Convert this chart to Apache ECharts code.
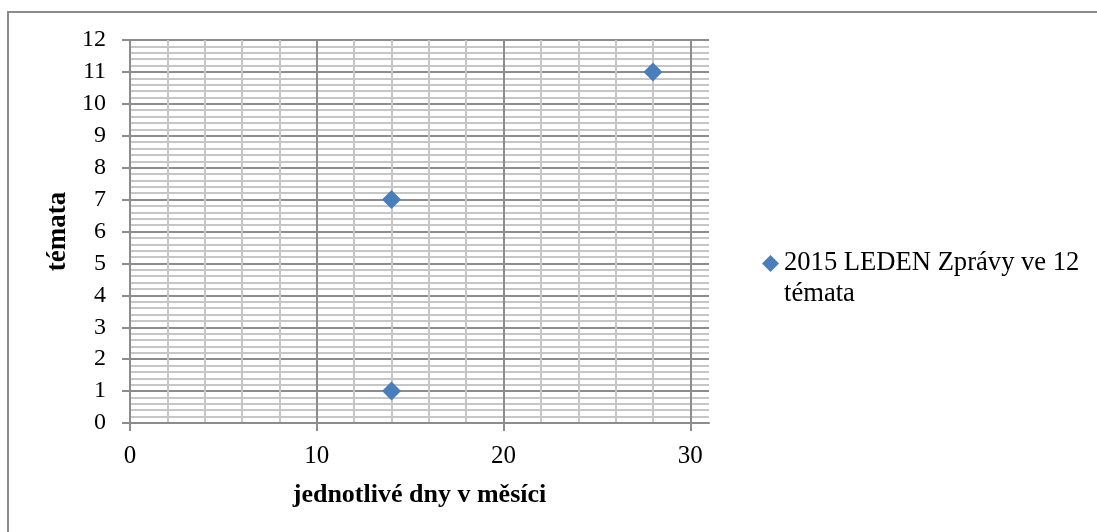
<!DOCTYPE html>
<html>
<head>
<meta charset="utf-8">
<script src="https://cdn.jsdelivr.net/npm/echarts@6/dist/echarts.min.js"></script>
<style>
html,body{margin:0;padding:0;background:#fff;}
#c{width:1097px;height:532px;}
</style>
</head>
<body>
<div id="c"></div>
<script>
// ---- data ----
const seriesName = '2015 LEDEN Zprávy ve 12 témata';
const xValues = [14, 14, 28];
const yValues = [1, 7, 11];
const xAxisTitle = 'jednotlivé dny v měsíci';
const yAxisTitle = 'témata';
const xMin = 0, xMax = 31, xLabelMax = 30, xInterval = 10, xMinorSplit = 5;
const yMin = 0, yMax = 12, yInterval = 1, yMinorSplit = 5;

const points = xValues.map((x, i) => [x, yValues[i]]);

const FONT = '"Liberation Serif", "Times New Roman", serif';
const MAJOR = '#8c8c8c';
const MINOR = '#c6c6c6';
const BLUE = '#4a7ebb';

const gridLeft = 130, gridTop = 40, gridWidth = 579, gridHeight = 383;

const chart = echarts.init(document.getElementById('c'), null, {renderer: 'canvas'});
chart.setOption({
  backgroundColor: '#ffffff',
  animation: false,
  graphic: [{
    type: 'rect',
    shape: {x: 8, y: 12, width: 1200, height: 700},
    style: {fill: 'none', stroke: '#8a8a8a', lineWidth: 2},
    z: -10
  }],
  grid: [
    {left: gridLeft, top: gridTop, width: gridWidth, height: gridHeight},
    {left: gridLeft, top: gridTop, width: gridWidth * (xLabelMax - xMin) / (xMax - xMin), height: gridHeight}
  ],
  legend: {
    show: true,
    left: 762,
    top: 217,
    padding: 0,
    itemWidth: 17,
    itemHeight: 17,
    icon: 'diamond',
    itemStyle: {opacity: 1},
    formatter: function (name) {
      const k = name.lastIndexOf(' ');
      return ' \n' + name.slice(0, k) + '\n' + name.slice(k + 1);
    },
    textStyle: {fontFamily: FONT, fontSize: 26.6, color: '#000', lineHeight: 31}
  },
  xAxis: [
    {
      type: 'value', gridIndex: 0, min: xMin, max: xMax,
      axisLine: {show: true, lineStyle: {color: MAJOR, width: 2}},
      axisTick: {show: false},
      axisLabel: {show: false},
      splitLine: {show: false},
      name: xAxisTitle,
      nameLocation: 'middle',
      nameGap: 59,
      nameTextStyle: {fontFamily: FONT, fontSize: 26, fontWeight: 'bold', color: '#000'}
    },
    {
      type: 'value', gridIndex: 1, min: xMin, max: xLabelMax, interval: xInterval,
      axisLine: {show: false},
      axisTick: {show: true, length: 8, lineStyle: {color: MAJOR, width: 2}},
      axisLabel: {show: true, margin: 21, fontFamily: FONT, fontSize: 25, color: '#000'},
      splitLine: {show: true, lineStyle: {color: MAJOR, width: 2}},
      minorTick: {show: false, splitNumber: xMinorSplit},
      minorSplitLine: {show: true, lineStyle: {color: MINOR, width: 2}}
    }
  ],
  yAxis: [
    {
      type: 'value', gridIndex: 0, min: yMin, max: yMax, interval: yInterval,
      axisLine: {show: true, lineStyle: {color: MAJOR, width: 2}},
      axisTick: {show: true, length: 8, lineStyle: {color: MAJOR, width: 2}},
      axisLabel: {show: true, margin: 24, fontFamily: FONT, fontSize: 24, color: '#000'},
      splitLine: {show: true, lineStyle: {color: MAJOR, width: 2}},
      minorTick: {show: false, splitNumber: yMinorSplit},
      minorSplitLine: {show: true, lineStyle: {color: MINOR, width: 2}},
      name: yAxisTitle,
      nameLocation: 'middle',
      nameRotate: 90,
      nameGap: 54,
      nameTextStyle: {fontFamily: FONT, fontSize: 27, fontWeight: 'bold', color: '#000'}
    },
    {
      type: 'value', gridIndex: 1, min: yMin, max: yMax,
      show: false, splitLine: {show: false}
    }
  ],
  series: [{
    name: seriesName,
    type: 'scatter',
    xAxisIndex: 0,
    yAxisIndex: 0,
    symbol: 'diamond',
    symbolSize: 19,
    itemStyle: {color: BLUE, opacity: 1},
    data: points,
    z: 10
  }]
});
</script>
</body>
</html>
